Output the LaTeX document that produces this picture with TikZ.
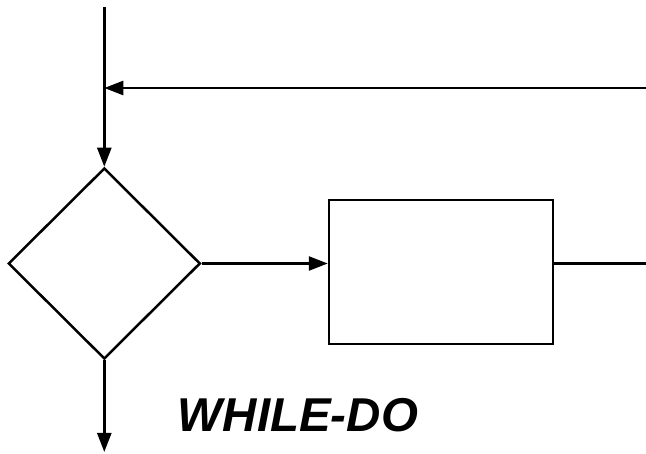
\documentclass[tikz,border=0pt]{standalone}
\usepackage{fontspec}
\setmainfont{Liberation Sans}
\usetikzlibrary{shapes.geometric,arrows.meta}
\begin{document}
\begin{tikzpicture}[x=1pt,y=-1pt,
  line/.style={line width=2.5pt},
  arr/.style={line, -{Triangle[length=19pt,width=14pt]}},
  dec/.style={draw, line width=2.5pt, diamond, inner sep=0pt, minimum width=192pt, minimum height=191pt},
  proc/.style={draw, line width=2.5pt, rectangle, inner sep=0pt, minimum width=224pt, minimum height=144pt},
  title/.style={font=\fontsize{47.5}{50}\selectfont\bfseries\itshape, inner sep=0pt, anchor=base}]
\useasboundingbox (0,0) rectangle (646,454);
\node[dec] (d) at (104.3,263.5) {};
\node[proc] (r) at (441,272) {};
\coordinate (top) at (104.3,7);
\coordinate (loopin) at (646,88);
\coordinate (loopjoin) at (104.3,88);
\coordinate (out) at (646,263.5);
\coordinate (exit) at (104.3,452);
\draw[line] (top) -- (loopjoin);
\draw[arr] (loopin) -- (loopjoin);
\draw[arr] (loopjoin) -- (d.north);
\draw[arr] (d.east) -- (d.east -| r.west);
\draw[line] (d.east -| r.east) -- (out);
\draw[arr] (d.south) -- (exit);
\node[title] (t) at (298,432) {WHILE-DO};
\end{tikzpicture}
\end{document}
